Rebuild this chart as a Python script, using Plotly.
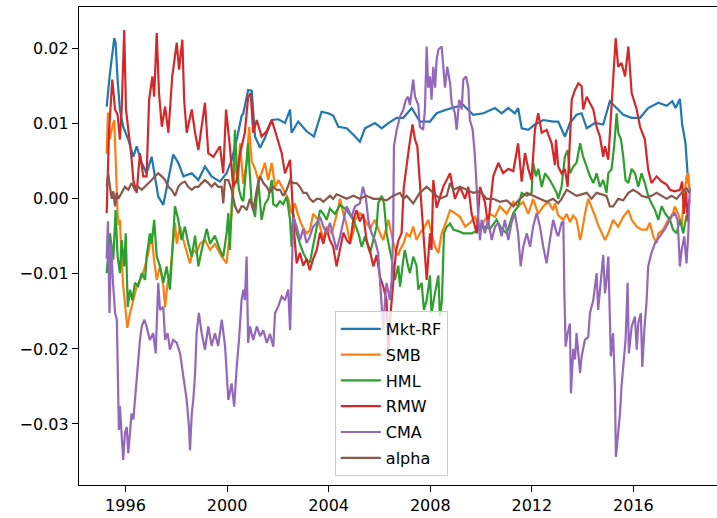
import plotly.graph_objects as go

# ---- data: (decimal year, value) ----
mkt_rf = [(1995.26,0.0123),(1995.39,0.0168),(1995.56,0.0214),(1995.61,0.0208),(1995.69,0.0159),(1995.78,0.0119),
(1995.91,0.0096),(1996.11,0.0079),(1996.31,0.0056),(1996.44,0.0070),(1996.64,0.0048),(1996.83,0.0034),(1997.03,0.0056),
(1997.29,0.0003),(1997.49,-0.0008),(1997.62,0.0016),(1997.88,0.0059),(1998.08,0.0048),(1998.28,0.0030),(1998.61,0.0034),
(1998.87,0.0025),(1999.13,0.0043),(1999.39,0.0030),(1999.72,0.0023),(1999.98,0.0034),(2000.18,0.0052),(2000.38,0.0079),
(2000.57,0.0110),(2000.64,0.0114),(2000.83,0.0145),(2000.97,0.0144),(2001.10,0.0083),(2001.30,0.0068),(2001.49,0.0081),
(2001.76,0.0105),(2002.02,0.0106),(2002.28,0.0101),(2002.48,0.0119),(2002.54,0.0088),(2002.80,0.0103),(2003.13,0.0090),
(2003.42,0.0083),(2003.72,0.0116),(2003.98,0.0114),(2004.18,0.0111),(2004.38,0.0096),(2004.71,0.0094),(2005.04,0.0083),
(2005.23,0.0076),(2005.43,0.0094),(2005.82,0.0101),(2006.09,0.0094),(2006.35,0.0101),(2006.68,0.0108),(2006.94,0.0108),
(2007.27,0.0121),(2007.59,0.0103),(2007.99,0.0103),(2008.25,0.0114),(2008.65,0.0119),(2008.91,0.0121),(2009.30,0.0125),
(2009.69,0.0112),(2010.09,0.0114),(2010.55,0.0121),(2010.81,0.0114),(2011.07,0.0121),(2011.33,0.0114),(2011.46,0.0121),
(2011.60,0.0094),(2011.86,0.0092),(2012.12,0.0099),(2012.45,0.0105),(2012.84,0.0103),(2013.04,0.0103),(2013.30,0.0083),
(2013.50,0.0101),(2013.76,0.0112),(2013.96,0.0114),(2014.16,0.0094),(2014.48,0.0101),(2014.81,0.0099),(2015.07,0.0130),
(2015.34,0.0121),(2015.60,0.0112),(2015.93,0.0108),(2016.26,0.0108),(2016.58,0.0121),(2016.98,0.0128),(2017.31,0.0124),
(2017.53,0.0130),(2017.66,0.0121),(2017.83,0.0133),(2017.92,0.0099),(2018.05,0.0074),(2018.13,0.0034),(2018.19,0.0016)]

smb = [(1995.26,0.0060),(1995.31,0.0115),(1995.39,0.0080),(1995.47,0.0095),(1995.56,0.0105),(1995.63,0.0040),
(1995.69,-0.0020),(1995.74,-0.0035),(1995.78,-0.0028),(1995.85,-0.0081),(1995.91,-0.0116),(1995.98,-0.0139),
(1996.07,-0.0172),(1996.18,-0.0152),(1996.31,-0.0135),(1996.44,-0.0117),(1996.64,-0.0104),(1996.77,-0.0090),
(1996.90,-0.0072),(1997.03,-0.0046),(1997.12,-0.0080),(1997.23,-0.0108),(1997.36,-0.0090),(1997.49,-0.0116),
(1997.56,-0.0144),(1997.66,-0.0112),(1997.75,-0.0104),(1997.88,-0.0055),(1997.95,-0.0032),(1998.02,-0.0060),
(1998.15,-0.0037),(1998.28,-0.0055),(1998.41,-0.0072),(1998.54,-0.0086),(1998.67,-0.0068),(1998.80,-0.0072),
(1998.93,-0.0060),(1999.13,-0.0055),(1999.33,-0.0068),(1999.52,-0.0060),(1999.79,-0.0077),(1999.98,-0.0086),
(2000.11,-0.0046),(2000.23,0.0000),(2000.31,0.0052),(2000.43,0.0020),(2000.51,0.0074),(2000.64,0.0020),
(2000.77,0.0048),(2000.87,0.0096),(2000.97,0.0050),(2001.10,0.0040),(2001.23,0.0025),(2001.36,0.0034),
(2001.49,0.0048),(2001.62,0.0025),(2001.76,0.0048),(2001.89,0.0016),(2002.02,0.0025),(2002.15,0.0016),
(2002.28,0.0008),(2002.41,0.0000),(2002.54,-0.0020),(2002.67,-0.0006),(2002.80,-0.0022),(2002.94,-0.0035),
(2003.13,-0.0046),(2003.26,-0.0042),(2003.39,-0.0020),(2003.59,-0.0028),(2003.79,-0.0055),(2003.92,-0.0037),
(2004.12,-0.0046),(2004.31,-0.0022),(2004.45,0.0000),(2004.58,-0.0020),(2004.71,-0.0035),(2004.84,-0.0059),
(2004.97,-0.0045),(2005.04,-0.0028),(2005.23,-0.0019),(2005.43,-0.0028),(2005.63,-0.0040),(2005.82,-0.0028),
(2006.02,-0.0046),(2006.15,-0.0055),(2006.35,-0.0028),(2006.48,-0.0046),(2006.61,-0.0068),(2006.74,-0.0075),
(2006.81,-0.0068),(2006.94,-0.0060),(2007.07,-0.0046),(2007.20,-0.0050),(2007.33,-0.0037),(2007.46,-0.0055),
(2007.59,-0.0046),(2007.79,-0.0037),(2007.92,-0.0028),(2008.05,-0.0046),(2008.19,-0.0064),(2008.32,-0.0072),
(2008.45,-0.0046),(2008.65,-0.0028),(2008.78,-0.0015),(2008.97,-0.0019),(2009.17,-0.0024),(2009.37,-0.0037),
(2009.56,-0.0032),(2009.76,-0.0024),(2009.89,-0.0037),(2009.96,-0.0041),(2010.15,-0.0028),(2010.35,-0.0020),
(2010.55,-0.0024),(2010.74,-0.0010),(2011.01,-0.0020),(2011.27,-0.0004),(2011.46,-0.0010),(2011.66,-0.0004),
(2011.86,-0.0020),(2012.05,0.0000),(2012.25,-0.0020),(2012.45,-0.0010),(2012.65,-0.0004),(2012.84,-0.0015),
(2012.91,-0.0006),(2013.04,-0.0022),(2013.24,-0.0028),(2013.37,-0.0020),(2013.50,-0.0031),(2013.63,-0.0022),
(2013.76,-0.0028),(2013.90,-0.0055),(2013.96,-0.0046),(2014.09,-0.0020),(2014.22,0.0000),(2014.35,-0.0010),
(2014.48,-0.0022),(2014.61,-0.0035),(2014.75,-0.0046),(2014.88,-0.0055),(2015.01,-0.0046),(2015.20,-0.0028),
(2015.40,-0.0037),(2015.60,-0.0024),(2015.80,-0.0015),(2015.93,-0.0028),(2016.13,-0.0037),(2016.32,-0.0041),
(2016.52,-0.0041),(2016.65,-0.0032),(2016.78,-0.0050),(2016.91,-0.0059),(2016.98,-0.0046),(2017.17,-0.0041),
(2017.37,-0.0028),(2017.56,-0.0019),(2017.63,-0.0010),(2017.76,-0.0020),(2017.90,-0.0035),(2017.96,-0.0010),
(2018.09,0.0030),(2018.16,0.0034),(2018.22,0.0008)]

hml = [(1995.26,-0.0099),(1995.39,-0.0046),(1995.52,-0.0081),(1995.61,-0.0015),(1995.69,-0.0077),(1995.78,-0.0099),
(1995.85,-0.0055),(1995.95,-0.0090),(1996.01,-0.0046),(1996.09,-0.0144),(1996.18,-0.0121),(1996.27,-0.0135),
(1996.37,-0.0112),(1996.50,-0.0116),(1996.64,-0.0099),(1996.77,-0.0108),(1996.83,-0.0077),(1996.96,-0.0046),
(1997.03,-0.0060),(1997.13,-0.0028),(1997.23,-0.0077),(1997.36,-0.0090),(1997.49,-0.0112),(1997.62,-0.0090),
(1997.75,-0.0121),(1997.88,-0.0046),(1997.95,-0.0010),(1998.08,-0.0028),(1998.21,-0.0055),(1998.34,-0.0037),
(1998.47,-0.0059),(1998.61,-0.0077),(1998.74,-0.0049),(1998.87,-0.0090),(1999.00,-0.0068),(1999.20,-0.0040),
(1999.33,-0.0060),(1999.52,-0.0049),(1999.72,-0.0068),(1999.85,-0.0077),(1999.98,-0.0046),(2000.05,-0.0019),
(2000.11,-0.0068),(2000.18,-0.0010),(2000.24,0.0020),(2000.31,0.0092),(2000.39,0.0040),(2000.47,0.0012),
(2000.57,0.0000),(2000.64,-0.0003),(2000.77,0.0056),(2000.83,0.0074),(2000.90,0.0030),(2000.97,-0.0005),
(2001.10,-0.0024),(2001.23,0.0025),(2001.30,-0.0005),(2001.36,-0.0028),(2001.49,-0.0007),(2001.62,0.0000),
(2001.76,0.0025),(2001.82,-0.0007),(2001.95,-0.0010),(2002.08,-0.0003),(2002.21,-0.0007),(2002.35,0.0003),
(2002.48,-0.0028),(2002.54,-0.0064),(2002.61,-0.0020),(2002.74,-0.0046),(2002.87,-0.0060),(2003.00,-0.0072),
(2003.13,-0.0081),(2003.26,-0.0085),(2003.39,-0.0062),(2003.59,-0.0028),(2003.66,-0.0015),(2003.79,-0.0020),
(2003.92,-0.0028),(2004.05,-0.0013),(2004.25,-0.0020),(2004.45,-0.0008),(2004.71,-0.0015),(2004.97,-0.0028),
(2005.17,-0.0046),(2005.30,-0.0064),(2005.43,-0.0050),(2005.63,-0.0072),(2005.76,-0.0055),(2005.89,-0.0037),
(2005.95,-0.0006),(2006.09,0.0004),(2006.18,-0.0006),(2006.28,-0.0046),(2006.48,-0.0080),(2006.61,-0.0108),
(2006.74,-0.0089),(2006.81,-0.0117),(2006.94,-0.0081),(2007.00,-0.0068),(2007.12,-0.0089),(2007.20,-0.0099),
(2007.33,-0.0077),(2007.46,-0.0089),(2007.53,-0.0121),(2007.66,-0.0112),(2007.75,-0.0148),(2007.86,-0.0135),
(2007.99,-0.0102),(2008.05,-0.0152),(2008.19,-0.0125),(2008.32,-0.0102),(2008.38,-0.0157),(2008.46,-0.0135),
(2008.54,-0.0046),(2008.65,-0.0037),(2008.78,-0.0033),(2008.91,-0.0041),(2009.10,-0.0043),(2009.30,-0.0046),
(2009.43,-0.0046),(2009.63,-0.0046),(2009.83,-0.0043),(2009.96,-0.0041),(2010.15,-0.0037),(2010.35,-0.0040),
(2010.61,-0.0028),(2010.81,-0.0040),(2011.01,-0.0046),(2011.27,-0.0019),(2011.46,-0.0010),(2011.60,0.0008),
(2011.80,0.0004),(2011.99,0.0008),(2012.05,0.0048),(2012.16,0.0030),(2012.25,0.0040),(2012.39,0.0016),
(2012.52,0.0034),(2012.71,0.0025),(2012.84,0.0016),(2012.98,0.0008),(2013.04,0.0000),(2013.17,0.0016),
(2013.30,0.0056),(2013.41,0.0065),(2013.50,0.0034),(2013.63,0.0043),(2013.76,0.0048),(2013.90,0.0074),
(2014.02,0.0056),(2014.16,0.0043),(2014.29,0.0030),(2014.42,0.0021),(2014.55,0.0034),(2014.68,0.0016),
(2014.81,0.0025),(2014.94,0.0008),(2015.01,0.0034),(2015.14,0.0040),(2015.24,0.0070),(2015.34,0.0114),
(2015.40,0.0088),(2015.51,0.0079),(2015.60,0.0056),(2015.69,0.0025),(2015.80,0.0021),(2015.93,0.0040),
(2016.06,0.0034),(2016.19,0.0016),(2016.32,0.0034),(2016.45,0.0021),(2016.58,0.0004),(2016.71,-0.0006),
(2016.85,-0.0015),(2016.98,-0.0028),(2017.11,-0.0010),(2017.24,-0.0019),(2017.44,-0.0028),(2017.56,-0.0041),
(2017.70,-0.0046),(2017.83,-0.0028),(2017.96,-0.0046),(2018.09,-0.0022),(2018.19,-0.0030)]

rmw = [(1995.26,-0.0019),(1995.35,0.0088),(1995.48,0.0159),(1995.59,0.0119),(1995.69,0.0112),(1995.78,0.0079),
(1995.85,0.0119),(1995.95,0.0225),(1996.02,0.0119),(1996.11,0.0096),(1996.22,0.0061),(1996.31,0.0025),
(1996.44,0.0008),(1996.57,0.0061),(1996.70,0.0030),(1996.83,0.0030),(1996.93,0.0132),(1997.06,0.0163),
(1997.13,0.0136),(1997.23,0.0221),(1997.32,0.0141),(1997.43,0.0096),(1997.56,0.0123),(1997.69,0.0088),
(1997.84,0.0163),(1998.02,0.0208),(1998.11,0.0172),(1998.24,0.0212),(1998.31,0.0132),(1998.41,0.0088),
(1998.61,0.0119),(1998.74,0.0088),(1998.87,0.0065),(1999.13,0.0128),(1999.26,0.0061),(1999.46,0.0056),
(1999.72,0.0070),(1999.85,0.0034),(1999.96,0.0119),(2000.11,0.0070),(2000.24,0.0016),(2000.38,0.0025),
(2000.51,0.0061),(2000.61,0.0075),(2000.70,0.0088),(2000.83,0.0136),(2000.93,0.0141),(2001.03,0.0088),
(2001.17,0.0105),(2001.36,0.0083),(2001.56,0.0090),(2001.76,0.0105),(2001.95,0.0083),(2002.15,0.0061),
(2002.28,0.0034),(2002.48,0.0052),(2002.54,0.0016),(2002.63,-0.0040),(2002.74,-0.0086),(2002.87,-0.0072),
(2003.00,-0.0089),(2003.13,-0.0080),(2003.26,-0.0095),(2003.39,-0.0080),(2003.53,-0.0068),(2003.66,-0.0045),
(2003.79,-0.0060),(2003.92,-0.0040),(2004.05,-0.0055),(2004.18,-0.0064),(2004.31,-0.0090),(2004.45,-0.0065),
(2004.58,-0.0045),(2004.71,-0.0055),(2004.84,-0.0060),(2004.97,-0.0028),(2005.10,-0.0015),(2005.23,-0.0030),
(2005.36,-0.0020),(2005.49,-0.0055),(2005.63,-0.0070),(2005.76,-0.0090),(2005.89,-0.0075),(2006.02,-0.0104),
(2006.15,-0.0117),(2006.28,-0.0135),(2006.35,-0.0212),(2006.44,-0.0152),(2006.53,-0.0117),(2006.65,-0.0070),
(2006.75,-0.0055),(2006.87,-0.0046),(2006.96,0.0016),(2007.07,0.0048),(2007.17,0.0070),(2007.30,0.0099),
(2007.40,0.0079),(2007.49,0.0070),(2007.57,0.0034),(2007.66,-0.0010),(2007.75,-0.0046),(2007.86,-0.0108),
(2007.99,-0.0046),(2008.05,-0.0068),(2008.12,0.0025),(2008.25,-0.0012),(2008.51,0.0016),(2008.78,0.0034),
(2008.97,0.0000),(2009.17,0.0016),(2009.37,0.0000),(2009.50,0.0016),(2009.63,-0.0020),(2009.83,-0.0046),
(2009.96,0.0016),(2010.15,-0.0004),(2010.28,-0.0035),(2010.48,0.0030),(2010.68,0.0048),(2010.87,0.0034),
(2011.07,0.0040),(2011.27,0.0037),(2011.46,0.0074),(2011.60,0.0023),(2011.73,0.0061),(2011.86,0.0040),
(2011.99,0.0025),(2012.12,0.0092),(2012.25,0.0114),(2012.39,0.0088),(2012.58,0.0092),(2012.78,0.0074),
(2012.91,0.0045),(2012.95,0.0079),(2013.04,0.0043),(2013.17,0.0034),(2013.30,0.0040),(2013.41,0.0016),
(2013.50,0.0079),(2013.57,0.0132),(2013.70,0.0145),(2013.83,0.0154),(2013.96,0.0150),(2014.02,0.0119),
(2014.16,0.0136),(2014.29,0.0128),(2014.42,0.0119),(2014.55,0.0096),(2014.68,0.0083),(2014.81,0.0056),
(2014.88,0.0070),(2015.01,0.0052),(2015.07,0.0088),(2015.20,0.0154),(2015.30,0.0214),(2015.40,0.0176),
(2015.53,0.0181),(2015.67,0.0163),(2015.80,0.0203),(2015.93,0.0141),(2016.13,0.0119),(2016.26,0.0096),
(2016.45,0.0079),(2016.58,0.0039),(2016.71,0.0021),(2016.91,0.0030),(2017.11,0.0023),(2017.31,0.0019),
(2017.44,0.0012),(2017.63,0.0010),(2017.83,0.0012),(2017.92,0.0023),(2017.99,-0.0020),(2018.07,0.0010),
(2018.14,-0.0030),(2018.20,0.0000)]

cma = [(1995.26,-0.0080),(1995.31,-0.0030),(1995.37,-0.0152),(1995.43,-0.0060),(1995.51,-0.0112),(1995.59,-0.0152),
(1995.66,-0.0161),(1995.69,-0.0224),(1995.72,-0.0268),(1995.74,-0.0308),(1995.78,-0.0276),(1995.85,-0.0312),
(1995.91,-0.0348),(1995.98,-0.0312),(1996.05,-0.0304),(1996.11,-0.0339),(1996.18,-0.0312),(1996.24,-0.0286),
(1996.31,-0.0294),(1996.37,-0.0268),(1996.44,-0.0241),(1996.50,-0.0210),(1996.57,-0.0188),(1996.64,-0.0170),
(1996.74,-0.0161),(1996.83,-0.0170),(1996.96,-0.0188),(1997.09,-0.0179),(1997.19,-0.0206),(1997.29,-0.0112),
(1997.36,-0.0148),(1997.49,-0.0144),(1997.56,-0.0188),(1997.66,-0.0179),(1997.75,-0.0201),(1997.88,-0.0188),
(1998.02,-0.0192),(1998.15,-0.0206),(1998.28,-0.0237),(1998.41,-0.0268),(1998.50,-0.0304),(1998.54,-0.0335),
(1998.61,-0.0286),(1998.67,-0.0268),(1998.74,-0.0233),(1998.80,-0.0179),(1998.89,-0.0152),(1999.00,-0.0179),
(1999.13,-0.0201),(1999.26,-0.0170),(1999.39,-0.0196),(1999.52,-0.0179),(1999.65,-0.0196),(1999.79,-0.0161),
(1999.92,-0.0196),(2000.05,-0.0268),(2000.18,-0.0246),(2000.28,-0.0277),(2000.38,-0.0224),(2000.47,-0.0188),
(2000.57,-0.0135),(2000.64,-0.0121),(2000.70,-0.0135),(2000.77,-0.0077),(2000.83,-0.0192),(2000.90,-0.0170),
(2001.03,-0.0188),(2001.17,-0.0170),(2001.30,-0.0183),(2001.43,-0.0175),(2001.56,-0.0192),(2001.69,-0.0180),
(2001.82,-0.0197),(2001.89,-0.0152),(2002.02,-0.0143),(2002.15,-0.0130),(2002.28,-0.0135),(2002.41,-0.0121),
(2002.48,-0.0175),(2002.54,-0.0090),(2002.61,-0.0024),(2002.74,-0.0037),(2002.87,-0.0055),(2003.00,-0.0040),
(2003.13,-0.0059),(2003.26,-0.0050),(2003.39,-0.0037),(2003.53,-0.0032),(2003.66,-0.0024),(2003.79,-0.0037),
(2003.92,-0.0046),(2004.05,-0.0032),(2004.18,-0.0050),(2004.31,-0.0068),(2004.45,-0.0050),(2004.58,-0.0032),
(2004.71,-0.0010),(2004.90,-0.0024),(2005.04,-0.0010),(2005.23,-0.0006),(2005.35,0.0016),(2005.47,0.0000),
(2005.56,-0.0028),(2005.69,-0.0046),(2005.82,-0.0055),(2005.95,-0.0072),(2006.09,-0.0135),(2006.15,-0.0175),
(2006.22,-0.0135),(2006.28,-0.0112),(2006.41,-0.0135),(2006.48,-0.0108),(2006.54,-0.0046),(2006.57,0.0070),
(2006.68,0.0092),(2006.81,0.0110),(2006.94,0.0119),(2007.04,0.0132),(2007.13,0.0136),(2007.20,0.0125),
(2007.33,0.0159),(2007.40,0.0136),(2007.53,0.0125),(2007.59,0.0096),(2007.72,0.0092),(2007.79,0.0119),
(2007.86,0.0203),(2007.92,0.0148),(2007.99,0.0163),(2008.05,0.0132),(2008.12,0.0176),(2008.19,0.0148),
(2008.25,0.0185),(2008.32,0.0199),(2008.45,0.0203),(2008.51,0.0176),(2008.58,0.0148),(2008.67,0.0176),
(2008.78,0.0154),(2008.84,0.0128),(2008.97,0.0114),(2009.04,0.0092),(2009.14,0.0132),(2009.24,0.0119),
(2009.30,0.0159),(2009.41,0.0163),(2009.50,0.0148),(2009.56,0.0105),(2009.67,0.0092),(2009.76,0.0056),
(2009.80,0.0025),(2009.85,-0.0001),(2009.89,-0.0024),(2009.96,-0.0055),(2010.02,-0.0028),(2010.15,-0.0046),
(2010.28,-0.0028),(2010.42,-0.0055),(2010.55,-0.0037),(2010.68,-0.0032),(2010.81,-0.0050),(2010.94,-0.0028),
(2011.07,-0.0055),(2011.20,-0.0032),(2011.33,-0.0019),(2011.46,-0.0046),(2011.56,-0.0090),(2011.66,-0.0064),
(2011.80,-0.0046),(2011.93,-0.0064),(2012.05,-0.0037),(2012.19,-0.0019),(2012.32,-0.0037),(2012.45,-0.0064),
(2012.58,-0.0086),(2012.71,-0.0055),(2012.84,-0.0028),(2012.98,-0.0046),(2013.04,-0.0050),(2013.17,-0.0032),
(2013.24,-0.0030),(2013.28,-0.0126),(2013.33,-0.0197),(2013.41,-0.0179),(2013.50,-0.0166),(2013.54,-0.0259),
(2013.63,-0.0200),(2013.70,-0.0214),(2013.76,-0.0179),(2013.83,-0.0206),(2013.90,-0.0232),(2013.96,-0.0210),
(2014.09,-0.0188),(2014.22,-0.0184),(2014.29,-0.0152),(2014.42,-0.0135),(2014.55,-0.0099),(2014.61,-0.0148),
(2014.75,-0.0103),(2014.81,-0.0075),(2014.88,-0.0126),(2014.94,-0.0108),(2015.01,-0.0077),(2015.07,-0.0148),
(2015.11,-0.0210),(2015.20,-0.0179),(2015.27,-0.0250),(2015.31,-0.0344),(2015.40,-0.0312),(2015.47,-0.0286),
(2015.53,-0.0250),(2015.60,-0.0224),(2015.69,-0.0188),(2015.77,-0.0112),(2015.82,-0.0206),(2015.93,-0.0170),
(2016.06,-0.0157),(2016.13,-0.0201),(2016.19,-0.0166),(2016.29,-0.0152),(2016.35,-0.0224),(2016.42,-0.0179),
(2016.52,-0.0135),(2016.58,-0.0090),(2016.71,-0.0072),(2016.85,-0.0059),(2016.98,-0.0053),(2017.11,-0.0046),
(2017.24,-0.0040),(2017.37,-0.0032),(2017.50,-0.0024),(2017.63,-0.0019),(2017.74,-0.0028),(2017.83,-0.0090),
(2017.90,-0.0068),(2018.00,-0.0050),(2018.09,-0.0086),(2018.16,-0.0046),(2018.22,0.0015)]

alpha = [(1995.26,0.0016),(1995.32,0.0034),(1995.39,0.0016),(1995.46,0.0000),(1995.52,0.0010),(1995.59,-0.0010),
(1995.65,0.0008),(1995.72,0.0000),(1995.85,0.0008),(1995.98,0.0016),(1996.11,0.0012),(1996.24,0.0021),
(1996.37,0.0012),(1996.50,0.0016),(1996.64,0.0012),(1996.77,0.0016),(1996.90,0.0021),(1997.03,0.0025),
(1997.16,0.0030),(1997.29,0.0034),(1997.43,0.0030),(1997.56,0.0025),(1997.69,0.0016),(1997.82,0.0012),
(1997.95,0.0004),(1998.08,0.0016),(1998.21,0.0021),(1998.34,0.0023),(1998.47,0.0016),(1998.61,0.0012),
(1998.74,0.0016),(1998.87,0.0016),(1999.00,0.0021),(1999.13,0.0025),(1999.26,0.0021),(1999.39,0.0016),
(1999.52,0.0021),(1999.65,0.0016),(1999.79,0.0016),(1999.85,-0.0006),(1999.92,0.0025),(2000.05,0.0025),
(2000.18,0.0012),(2000.31,-0.0010),(2000.44,-0.0019),(2000.57,-0.0010),(2000.64,-0.0010),(2000.77,-0.0015),
(2000.90,0.0000),(2001.03,-0.0015),(2001.17,0.0012),(2001.30,0.0030),(2001.43,0.0021),(2001.56,0.0016),
(2001.69,0.0008),(2001.82,0.0016),(2001.95,0.0012),(2002.08,0.0012),(2002.21,0.0004),(2002.35,0.0012),
(2002.48,0.0025),(2002.61,0.0021),(2002.74,0.0021),(2002.87,0.0016),(2003.00,0.0008),(2003.13,0.0008),
(2003.26,0.0000),(2003.39,-0.0004),(2003.53,0.0000),(2003.66,0.0000),(2003.79,-0.0004),(2003.92,0.0000),
(2004.05,0.0004),(2004.18,0.0000),(2004.31,0.0006),(2004.45,0.0004),(2004.71,0.0000),(2004.97,0.0004),
(2005.23,0.0000),(2005.49,0.0004),(2005.76,0.0000),(2006.02,0.0000),(2006.28,-0.0002),(2006.54,0.0004),
(2006.81,0.0008),(2006.94,0.0000),(2007.07,0.0004),(2007.33,-0.0006),(2007.59,0.0008),(2007.86,0.0016),
(2008.12,0.0008),(2008.38,0.0000),(2008.65,0.0004),(2008.78,0.0021),(2008.91,0.0012),(2009.17,0.0016),
(2009.43,0.0012),(2009.69,0.0008),(2009.96,0.0010),(2010.22,0.0000),(2010.48,0.0000),(2010.74,-0.0004),
(2011.01,-0.0002),(2011.27,-0.0010),(2011.53,0.0000),(2011.80,0.0008),(2012.05,0.0004),(2012.32,0.0000),
(2012.58,-0.0004),(2012.84,0.0000),(2013.04,-0.0006),(2013.17,0.0000),(2013.37,0.0012),(2013.57,0.0008),
(2013.76,0.0004),(2013.96,0.0006),(2014.16,0.0008),(2014.35,0.0000),(2014.55,0.0008),(2014.75,0.0006),
(2014.94,0.0004),(2015.07,-0.0010),(2015.20,-0.0010),(2015.40,0.0000),(2015.60,-0.0002),(2015.80,0.0008),
(2015.99,0.0012),(2016.19,0.0008),(2016.32,0.0004),(2016.52,0.0002),(2016.71,0.0004),(2016.91,0.0008),
(2017.11,0.0004),(2017.31,0.0000),(2017.50,0.0004),(2017.70,0.0000),(2017.90,0.0008),(2018.09,0.0014),
(2018.19,0.0008)]

series_names = ["Mkt-RF", "SMB", "HML", "RMW", "CMA", "alpha"]
series_data = [mkt_rf, smb, hml, rmw, cma, alpha]
series_colors = ["#1f77b4", "#ff7f0e", "#2ca02c", "#d62728", "#9467bd", "#8c564b"]

x_tick_values = [1996, 2000, 2004, 2008, 2012, 2016]
x_tick_labels = ["1996", "2000", "2004", "2008", "2012", "2016"]
y_tick_values = [-0.03, -0.02, -0.01, 0.0, 0.01, 0.02]

FONT = "DejaVu Sans"

fig = go.Figure()
for name, data, color in zip(series_names, series_data, series_colors):
    xs = [p[0] for p in data]
    ys = [p[1] for p in data]
    fig.add_trace(go.Scatter(x=xs, y=ys, mode="lines", name=name, legendgroup=name,
                             line=dict(color=color, width=2.2)))

axis_common = dict(showgrid=False, zeroline=False, showline=True, linecolor="black",
                   linewidth=1.3, ticks="outside", ticklen=6, tickwidth=1.3, tickcolor="black",
                   tickfont=dict(family=FONT, size=16, color="black"))

fig.update_layout(
    width=717, height=518,
    margin=dict(l=79, r=0, t=7, b=33),
    paper_bgcolor="white", plot_bgcolor="white",
    font=dict(family=FONT, size=16, color="black"),
    xaxis=dict(range=[1994.17, 2019.29], tickmode="array", tickvals=x_tick_values,
               ticktext=x_tick_labels, mirror=True, **axis_common),
    yaxis=dict(range=[-0.03813, 0.02556], tickmode="array", tickvals=y_tick_values,
               tickformat=".2f", mirror=False, **axis_common),
    legend=dict(x=0.401, y=0.019, xanchor="left", yanchor="bottom",
                bgcolor="rgba(255,255,255,0.8)", bordercolor="#cccccc", borderwidth=1,
                font=dict(family=FONT, size=16, color="black"), itemwidth=40,
                tracegroupgap=2),
    showlegend=True,
)

fig.write_html("out.html")
